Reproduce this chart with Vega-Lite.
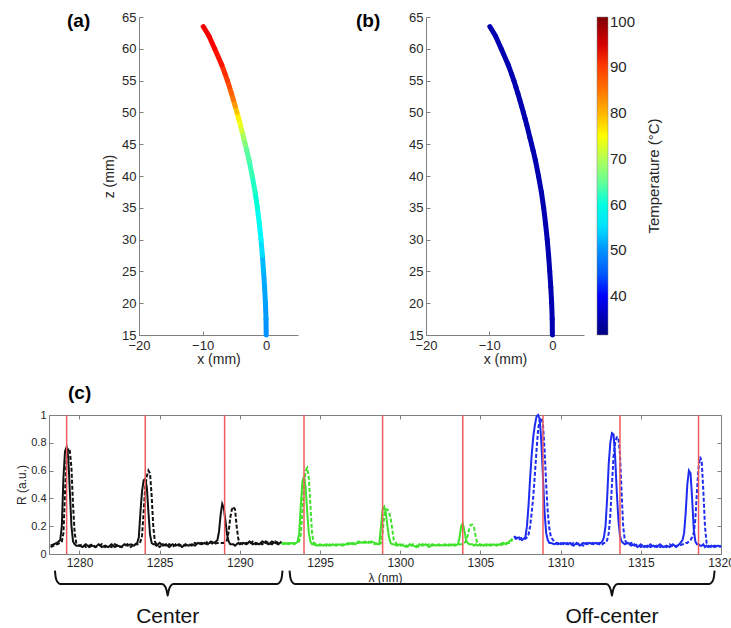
{
"$schema": "https://vega.github.io/schema/vega-lite/v6.json",
"padding": {"left": 15, "top": 11, "right": 0, "bottom": 0},
"background": "white",
"config": {
  "font": "Liberation Sans",
  "view": {"stroke": null},
  "axis": {"grid": false, "domainColor": "#808080", "tickColor": "#808080", "labelColor": "#262626", "titleColor": "#262626", "titleFontWeight": "normal", "labelFlush": false, "labelOverlap": false, "tickSize": -4, "labelFontSize": 13, "titleFontSize": 14},
  "title": {"fontSize": 19, "fontWeight": "bold", "anchor": "start", "frame": "group", "color": "#000000"}
},
"datasets": {
  "curve": [
    {"z":15,"x":0,"ta":50,"tb":35},{"z":17.5,"x":-0.03,"ta":50.5,"tb":35},{"z":20,"x":-0.12,"ta":51,"tb":35},{"z":22.5,"x":-0.25,"ta":51.5,"tb":35},
    {"z":25,"x":-0.42,"ta":52.5,"tb":35},{"z":27.5,"x":-0.6,"ta":55,"tb":35},{"z":30,"x":-0.82,"ta":57,"tb":35},{"z":32.5,"x":-1.08,"ta":59,"tb":35},
    {"z":35,"x":-1.38,"ta":61,"tb":35},{"z":37.5,"x":-1.75,"ta":62,"tb":35},{"z":40,"x":-2.2,"ta":63,"tb":35},{"z":42.5,"x":-2.7,"ta":64,"tb":35},
    {"z":44,"x":-3.05,"ta":65,"tb":35},{"z":45,"x":-3.3,"ta":67,"tb":35},{"z":46,"x":-3.55,"ta":69,"tb":35},{"z":47,"x":-3.8,"ta":72,"tb":35},
    {"z":48,"x":-4.05,"ta":74,"tb":35},{"z":49,"x":-4.32,"ta":76,"tb":35},{"z":50,"x":-4.6,"ta":79,"tb":35},{"z":51,"x":-4.88,"ta":82,"tb":35},
    {"z":52,"x":-5.17,"ta":85,"tb":35},{"z":53,"x":-5.47,"ta":87,"tb":35},{"z":54,"x":-5.78,"ta":89,"tb":35},{"z":55,"x":-6.1,"ta":90,"tb":35},
    {"z":56,"x":-6.45,"ta":91,"tb":35},{"z":57.5,"x":-7.0,"ta":92,"tb":35},{"z":60,"x":-8.1,"ta":92.5,"tb":35},{"z":62,"x":-9.0,"ta":93,"tb":35},
    {"z":63.5,"x":-9.9,"ta":93,"tb":35}
  ],
  "red": [{"l":1279.2},{"l":1284.1},{"l":1289.05},{"l":1294.0},{"l":1298.9},{"l":1303.9},{"l":1308.9},{"l":1313.7},{"l":1318.6}],
  "spec": [
    {"c":"k","l":1278.2,"a":0.06,"b":0.05},{"c":"k","l":1278.4,"a":0.07,"b":0.06},{"c":"k","l":1278.6,"a":0.08,"b":0.07},{"c":"k","l":1278.8,"a":0.10,"b":0.08},
    {"c":"k","l":1278.9,"a":0.20,"b":0.09},{"c":"k","l":1279.0,"a":0.55,"b":0.15},{"c":"k","l":1279.1,"a":0.74,"b":0.45},{"c":"k","l":1279.2,"a":0.77,"b":0.68},
    {"c":"k","l":1279.3,"a":0.70,"b":0.76},{"c":"k","l":1279.4,"a":0.45,"b":0.74},{"c":"k","l":1279.5,"a":0.20,"b":0.62},{"c":"k","l":1279.6,"a":0.09,"b":0.35},
    {"c":"k","l":1279.7,"a":0.07,"b":0.15},{"c":"k","l":1279.8,"a":0.06,"b":0.08},{"c":"k","l":1280.0,"a":0.06,"b":0.06},{"c":"k","l":1280.2,"a":0.05,"b":0.07},
    {"c":"k","l":1280.4,"a":0.07,"b":0.05},{"c":"k","l":1280.6,"a":0.05,"b":0.06},{"c":"k","l":1280.8,"a":0.06,"b":0.07},{"c":"k","l":1281.0,"a":0.05,"b":0.05},
    {"c":"k","l":1281.2,"a":0.07,"b":0.06},{"c":"k","l":1281.4,"a":0.05,"b":0.07},{"c":"k","l":1281.6,"a":0.06,"b":0.05},{"c":"k","l":1281.8,"a":0.05,"b":0.06},
    {"c":"k","l":1282.0,"a":0.07,"b":0.05},{"c":"k","l":1282.2,"a":0.05,"b":0.07},{"c":"k","l":1282.4,"a":0.06,"b":0.06},{"c":"k","l":1282.6,"a":0.05,"b":0.05},
    {"c":"k","l":1282.8,"a":0.07,"b":0.06},{"c":"k","l":1283.0,"a":0.06,"b":0.07},{"c":"k","l":1283.2,"a":0.07,"b":0.05},{"c":"k","l":1283.4,"a":0.06,"b":0.07},
    {"c":"k","l":1283.6,"a":0.08,"b":0.07},{"c":"k","l":1283.7,"a":0.12,"b":0.07},{"c":"k","l":1283.8,"a":0.30,"b":0.09},{"c":"k","l":1283.9,"a":0.45,"b":0.13},
    {"c":"k","l":1284.0,"a":0.53,"b":0.30},{"c":"k","l":1284.1,"a":0.54,"b":0.48},{"c":"k","l":1284.2,"a":0.48,"b":0.56},{"c":"k","l":1284.3,"a":0.30,"b":0.60},
    {"c":"k","l":1284.4,"a":0.14,"b":0.58},{"c":"k","l":1284.5,"a":0.08,"b":0.42},{"c":"k","l":1284.6,"a":0.07,"b":0.20},{"c":"k","l":1284.7,"a":0.07,"b":0.09},
    {"c":"k","l":1284.8,"a":0.06,"b":0.07},{"c":"k","l":1285.0,"a":0.08,"b":0.05},{"c":"k","l":1285.2,"a":0.06,"b":0.07},{"c":"k","l":1285.4,"a":0.07,"b":0.06},
    {"c":"k","l":1285.6,"a":0.05,"b":0.07},{"c":"k","l":1285.8,"a":0.07,"b":0.05},{"c":"k","l":1286.0,"a":0.06,"b":0.07},{"c":"k","l":1286.2,"a":0.07,"b":0.06},
    {"c":"k","l":1286.4,"a":0.05,"b":0.07},{"c":"k","l":1286.6,"a":0.07,"b":0.06},{"c":"k","l":1286.8,"a":0.06,"b":0.07},{"c":"k","l":1287.0,"a":0.07,"b":0.06},
    {"c":"k","l":1287.2,"a":0.06,"b":0.08},{"c":"k","l":1287.4,"a":0.08,"b":0.07},{"c":"k","l":1287.6,"a":0.07,"b":0.08},{"c":"k","l":1287.8,"a":0.08,"b":0.07},
    {"c":"k","l":1288.0,"a":0.07,"b":0.09},{"c":"k","l":1288.2,"a":0.09,"b":0.08},{"c":"k","l":1288.4,"a":0.08,"b":0.07},{"c":"k","l":1288.6,"a":0.10,"b":0.08},
    {"c":"k","l":1288.7,"a":0.16,"b":0.08},{"c":"k","l":1288.8,"a":0.28,"b":0.08},{"c":"k","l":1288.9,"a":0.36,"b":0.08},{"c":"k","l":1289.0,"a":0.33,"b":0.08},
    {"c":"k","l":1289.1,"a":0.24,"b":0.09},{"c":"k","l":1289.2,"a":0.14,"b":0.10},{"c":"k","l":1289.3,"a":0.09,"b":0.16},{"c":"k","l":1289.4,"a":0.07,"b":0.26},
    {"c":"k","l":1289.5,"a":0.07,"b":0.32},{"c":"k","l":1289.6,"a":0.07,"b":0.34},{"c":"k","l":1289.7,"a":0.06,"b":0.32},{"c":"k","l":1289.8,"a":0.07,"b":0.20},
    {"c":"k","l":1289.9,"a":0.08,"b":0.11},{"c":"k","l":1290.0,"a":0.07,"b":0.08},{"c":"k","l":1290.2,"a":0.08,"b":0.07},{"c":"k","l":1290.4,"a":0.07,"b":0.08},
    {"c":"k","l":1290.6,"a":0.09,"b":0.07},{"c":"k","l":1290.8,"a":0.07,"b":0.09},{"c":"k","l":1291.0,"a":0.08,"b":0.07},{"c":"k","l":1291.2,"a":0.07,"b":0.08},
    {"c":"k","l":1291.4,"a":0.09,"b":0.07},{"c":"k","l":1291.6,"a":0.08,"b":0.09},{"c":"k","l":1291.8,"a":0.07,"b":0.08},{"c":"k","l":1292.0,"a":0.09,"b":0.07},
    {"c":"k","l":1292.2,"a":0.08,"b":0.09},{"c":"k","l":1292.4,"a":0.07,"b":0.08},{"c":"k","l":1292.6,"a":0.09,"b":0.08},
    {"c":"g","l":1292.6,"a":0.07,"b":0.08},{"c":"g","l":1292.8,"a":0.08,"b":0.07},{"c":"g","l":1293.0,"a":0.07,"b":0.08},{"c":"g","l":1293.2,"a":0.08,"b":0.07},
    {"c":"g","l":1293.4,"a":0.07,"b":0.08},{"c":"g","l":1293.6,"a":0.09,"b":0.08},{"c":"g","l":1293.7,"a":0.15,"b":0.09},{"c":"g","l":1293.8,"a":0.35,"b":0.14},
    {"c":"g","l":1293.9,"a":0.52,"b":0.30},{"c":"g","l":1294.0,"a":0.56,"b":0.50},{"c":"g","l":1294.1,"a":0.48,"b":0.60},{"c":"g","l":1294.2,"a":0.30,"b":0.62},
    {"c":"g","l":1294.3,"a":0.15,"b":0.55},{"c":"g","l":1294.4,"a":0.09,"b":0.35},{"c":"g","l":1294.5,"a":0.07,"b":0.15},{"c":"g","l":1294.6,"a":0.07,"b":0.08},
    {"c":"g","l":1294.8,"a":0.06,"b":0.07},{"c":"g","l":1295.0,"a":0.07,"b":0.06},{"c":"g","l":1295.2,"a":0.06,"b":0.07},{"c":"g","l":1295.4,"a":0.07,"b":0.06},
    {"c":"g","l":1295.6,"a":0.06,"b":0.07},{"c":"g","l":1295.8,"a":0.07,"b":0.06},{"c":"g","l":1296.0,"a":0.06,"b":0.07},{"c":"g","l":1296.2,"a":0.07,"b":0.06},
    {"c":"g","l":1296.4,"a":0.06,"b":0.07},{"c":"g","l":1296.6,"a":0.07,"b":0.07},{"c":"g","l":1296.8,"a":0.07,"b":0.08},{"c":"g","l":1297.0,"a":0.08,"b":0.07},
    {"c":"g","l":1297.2,"a":0.07,"b":0.08},{"c":"g","l":1297.4,"a":0.09,"b":0.08},{"c":"g","l":1297.6,"a":0.08,"b":0.09},{"c":"g","l":1297.8,"a":0.09,"b":0.08},
    {"c":"g","l":1298.0,"a":0.08,"b":0.09},{"c":"g","l":1298.2,"a":0.09,"b":0.08},{"c":"g","l":1298.4,"a":0.08,"b":0.07},{"c":"g","l":1298.6,"a":0.07,"b":0.08},
    {"c":"g","l":1298.7,"a":0.08,"b":0.07},{"c":"g","l":1298.8,"a":0.20,"b":0.08},{"c":"g","l":1298.9,"a":0.32,"b":0.15},{"c":"g","l":1299.0,"a":0.34,"b":0.28},
    {"c":"g","l":1299.1,"a":0.30,"b":0.32},{"c":"g","l":1299.2,"a":0.20,"b":0.32},{"c":"g","l":1299.3,"a":0.12,"b":0.30},{"c":"g","l":1299.4,"a":0.08,"b":0.26},
    {"c":"g","l":1299.5,"a":0.07,"b":0.18},{"c":"g","l":1299.6,"a":0.07,"b":0.10},{"c":"g","l":1299.8,"a":0.06,"b":0.07},{"c":"g","l":1300.0,"a":0.07,"b":0.06},
    {"c":"g","l":1300.2,"a":0.06,"b":0.07},{"c":"g","l":1300.4,"a":0.05,"b":0.06},{"c":"g","l":1300.6,"a":0.07,"b":0.05},{"c":"g","l":1300.8,"a":0.06,"b":0.07},
    {"c":"g","l":1301.0,"a":0.05,"b":0.06},{"c":"g","l":1301.2,"a":0.07,"b":0.05},{"c":"g","l":1301.4,"a":0.06,"b":0.07},{"c":"g","l":1301.6,"a":0.07,"b":0.06},
    {"c":"g","l":1301.8,"a":0.05,"b":0.07},{"c":"g","l":1302.0,"a":0.07,"b":0.06},{"c":"g","l":1302.2,"a":0.06,"b":0.07},{"c":"g","l":1302.4,"a":0.07,"b":0.06},
    {"c":"g","l":1302.6,"a":0.06,"b":0.07},{"c":"g","l":1302.8,"a":0.07,"b":0.06},{"c":"g","l":1303.0,"a":0.06,"b":0.07},{"c":"g","l":1303.2,"a":0.07,"b":0.06},
    {"c":"g","l":1303.4,"a":0.06,"b":0.07},{"c":"g","l":1303.6,"a":0.07,"b":0.06},{"c":"g","l":1303.7,"a":0.12,"b":0.07},{"c":"g","l":1303.8,"a":0.20,"b":0.07},
    {"c":"g","l":1303.9,"a":0.22,"b":0.07},{"c":"g","l":1304.0,"a":0.17,"b":0.08},{"c":"g","l":1304.1,"a":0.10,"b":0.09},{"c":"g","l":1304.2,"a":0.08,"b":0.13},
    {"c":"g","l":1304.3,"a":0.07,"b":0.18},{"c":"g","l":1304.4,"a":0.07,"b":0.21},{"c":"g","l":1304.5,"a":0.07,"b":0.21},{"c":"g","l":1304.6,"a":0.06,"b":0.19},
    {"c":"g","l":1304.7,"a":0.07,"b":0.13},{"c":"g","l":1304.8,"a":0.06,"b":0.08},{"c":"g","l":1305.0,"a":0.07,"b":0.06},{"c":"g","l":1305.2,"a":0.06,"b":0.07},
    {"c":"g","l":1305.4,"a":0.07,"b":0.06},{"c":"g","l":1305.6,"a":0.06,"b":0.07},{"c":"g","l":1305.8,"a":0.07,"b":0.06},{"c":"g","l":1306.0,"a":0.06,"b":0.07},
    {"c":"g","l":1306.2,"a":0.07,"b":0.06},{"c":"g","l":1306.4,"a":0.08,"b":0.07},{"c":"g","l":1306.6,"a":0.07,"b":0.08},{"c":"g","l":1306.8,"a":0.09,"b":0.08},
    {"c":"g","l":1307.0,"a":0.11,"b":0.10},
    {"c":"b","l":1307.1,"a":0.13,"b":0.12},{"c":"b","l":1307.2,"a":0.11,"b":0.12},{"c":"b","l":1307.4,"a":0.12,"b":0.10},{"c":"b","l":1307.6,"a":0.10,"b":0.12},
    {"c":"b","l":1307.8,"a":0.12,"b":0.11},{"c":"b","l":1307.9,"a":0.20,"b":0.12},{"c":"b","l":1308.0,"a":0.35,"b":0.14},{"c":"b","l":1308.1,"a":0.55,"b":0.20},
    {"c":"b","l":1308.2,"a":0.72,"b":0.30},{"c":"b","l":1308.3,"a":0.85,"b":0.42},{"c":"b","l":1308.4,"a":0.93,"b":0.58},{"c":"b","l":1308.5,"a":0.99,"b":0.75},
    {"c":"b","l":1308.6,"a":1.0,"b":0.90},{"c":"b","l":1308.7,"a":0.97,"b":0.97},{"c":"b","l":1308.8,"a":0.80,"b":0.98},{"c":"b","l":1308.9,"a":0.55,"b":0.93},
    {"c":"b","l":1309.0,"a":0.30,"b":0.75},{"c":"b","l":1309.1,"a":0.15,"b":0.50},{"c":"b","l":1309.2,"a":0.10,"b":0.30},{"c":"b","l":1309.3,"a":0.08,"b":0.18},
    {"c":"b","l":1309.4,"a":0.08,"b":0.12},{"c":"b","l":1309.6,"a":0.07,"b":0.09},{"c":"b","l":1309.8,"a":0.08,"b":0.07},{"c":"b","l":1310.0,"a":0.07,"b":0.08},
    {"c":"b","l":1310.2,"a":0.08,"b":0.07},{"c":"b","l":1310.4,"a":0.07,"b":0.08},{"c":"b","l":1310.6,"a":0.08,"b":0.06},{"c":"b","l":1310.8,"a":0.06,"b":0.08},
    {"c":"b","l":1311.0,"a":0.08,"b":0.07},{"c":"b","l":1311.2,"a":0.06,"b":0.08},{"c":"b","l":1311.4,"a":0.08,"b":0.06},{"c":"b","l":1311.6,"a":0.07,"b":0.08},
    {"c":"b","l":1311.8,"a":0.08,"b":0.07},{"c":"b","l":1312.0,"a":0.07,"b":0.08},{"c":"b","l":1312.2,"a":0.08,"b":0.07},{"c":"b","l":1312.4,"a":0.07,"b":0.08},
    {"c":"b","l":1312.6,"a":0.09,"b":0.07},{"c":"b","l":1312.7,"a":0.12,"b":0.08},{"c":"b","l":1312.8,"a":0.20,"b":0.08},{"c":"b","l":1312.9,"a":0.40,"b":0.10},
    {"c":"b","l":1313.0,"a":0.65,"b":0.15},{"c":"b","l":1313.1,"a":0.80,"b":0.28},{"c":"b","l":1313.2,"a":0.87,"b":0.50},{"c":"b","l":1313.3,"a":0.86,"b":0.70},
    {"c":"b","l":1313.4,"a":0.70,"b":0.80},{"c":"b","l":1313.5,"a":0.45,"b":0.84},{"c":"b","l":1313.6,"a":0.25,"b":0.84},{"c":"b","l":1313.7,"a":0.13,"b":0.72},
    {"c":"b","l":1313.8,"a":0.09,"b":0.45},{"c":"b","l":1313.9,"a":0.08,"b":0.20},{"c":"b","l":1314.0,"a":0.07,"b":0.10},{"c":"b","l":1314.2,"a":0.08,"b":0.07},
    {"c":"b","l":1314.4,"a":0.06,"b":0.08},{"c":"b","l":1314.6,"a":0.07,"b":0.06},{"c":"b","l":1314.8,"a":0.05,"b":0.07},{"c":"b","l":1315.0,"a":0.07,"b":0.05},
    {"c":"b","l":1315.2,"a":0.05,"b":0.06},{"c":"b","l":1315.4,"a":0.06,"b":0.05},{"c":"b","l":1315.6,"a":0.05,"b":0.07},{"c":"b","l":1315.8,"a":0.06,"b":0.05},
    {"c":"b","l":1316.0,"a":0.05,"b":0.06},{"c":"b","l":1316.2,"a":0.07,"b":0.05},{"c":"b","l":1316.4,"a":0.05,"b":0.06},{"c":"b","l":1316.6,"a":0.06,"b":0.05},
    {"c":"b","l":1316.8,"a":0.05,"b":0.07},{"c":"b","l":1317.0,"a":0.07,"b":0.05},{"c":"b","l":1317.2,"a":0.05,"b":0.06},{"c":"b","l":1317.4,"a":0.07,"b":0.06},
    {"c":"b","l":1317.6,"a":0.10,"b":0.07},{"c":"b","l":1317.7,"a":0.15,"b":0.07},{"c":"b","l":1317.8,"a":0.30,"b":0.08},{"c":"b","l":1317.9,"a":0.50,"b":0.08},
    {"c":"b","l":1318.0,"a":0.60,"b":0.09},{"c":"b","l":1318.1,"a":0.58,"b":0.10},{"c":"b","l":1318.2,"a":0.40,"b":0.12},{"c":"b","l":1318.3,"a":0.18,"b":0.15},
    {"c":"b","l":1318.4,"a":0.09,"b":0.25},{"c":"b","l":1318.5,"a":0.07,"b":0.45},{"c":"b","l":1318.6,"a":0.07,"b":0.62},{"c":"b","l":1318.7,"a":0.06,"b":0.70},
    {"c":"b","l":1318.8,"a":0.06,"b":0.66},{"c":"b","l":1318.9,"a":0.07,"b":0.45},{"c":"b","l":1319.0,"a":0.05,"b":0.20},{"c":"b","l":1319.1,"a":0.06,"b":0.08},
    {"c":"b","l":1319.2,"a":0.05,"b":0.06},{"c":"b","l":1319.4,"a":0.06,"b":0.05},{"c":"b","l":1319.6,"a":0.05,"b":0.06},{"c":"b","l":1319.8,"a":0.06,"b":0.05},
    {"c":"b","l":1320.0,"a":0.05,"b":0.06}
  ],
  "brace": [
    {"g":"c","l":1278.47,"r":-0.12},{"g":"c","l":1278.52,"r":-0.17},{"g":"c","l":1278.62,"r":-0.2},{"g":"c","l":1278.8,"r":-0.215},
    {"g":"c","l":1285.15,"r":-0.215},{"g":"c","l":1285.35,"r":-0.235},{"g":"c","l":1285.45,"r":-0.27},{"g":"c","l":1285.5,"r":-0.30},
    {"g":"c","l":1285.55,"r":-0.27},{"g":"c","l":1285.65,"r":-0.235},{"g":"c","l":1285.85,"r":-0.215},{"g":"c","l":1292.33,"r":-0.215},
    {"g":"c","l":1292.51,"r":-0.2},{"g":"c","l":1292.61,"r":-0.17},{"g":"c","l":1292.66,"r":-0.12},
    {"g":"o","l":1293.1,"r":-0.12},{"g":"o","l":1293.15,"r":-0.17},{"g":"o","l":1293.25,"r":-0.2},{"g":"o","l":1293.43,"r":-0.215},
    {"g":"o","l":1312.85,"r":-0.215},{"g":"o","l":1313.05,"r":-0.235},{"g":"o","l":1313.15,"r":-0.27},{"g":"o","l":1313.2,"r":-0.30},
    {"g":"o","l":1313.25,"r":-0.27},{"g":"o","l":1313.35,"r":-0.235},{"g":"o","l":1313.55,"r":-0.215},{"g":"o","l":1319.27,"r":-0.215},
    {"g":"o","l":1319.45,"r":-0.2},{"g":"o","l":1319.55,"r":-0.17},{"g":"o","l":1319.6,"r":-0.12}
  ],
  "lab": [{"t":"Center","l":1285.5,"r":-0.45},{"t":"Off-center","l":1313.2,"r":-0.45}]
},
"spacing": 17,
"vconcat": [
  {
    "spacing": 17,
    "hconcat": [
      {"width": 1, "height": 1, "data": {"values": []}, "mark": "point"},
      {
        "spacing": 58,
        "resolve": {"scale": {"color": "independent"}, "legend": {"color": "independent"}},
        "hconcat": [
          {
            "width": 159, "height": 318,
            "title": {"text": "(a)", "dx": -72, "offset": -20},
            "data": {"name": "curve"},
            "transform": [
              {"window": [{"op": "lead", "field": "x", "as": "x2"}, {"op": "lead", "field": "z", "as": "z2"}], "sort": [{"field": "z"}]},
              {"filter": "datum.x2 != null"}
            ],
            "mark": {"type": "rule", "strokeWidth": 5, "strokeCap": "round"},
            "encoding": {
              "x": {"field": "x", "type": "quantitative", "scale": {"domain": [-20, 5]}, "axis": {"values": [-20, -10, 0], "title": "x (mm)", "labelPadding": 8, "titlePadding": 0}},
              "x2": {"field": "x2"},
              "y": {"field": "z", "type": "quantitative", "scale": {"domain": [15, 65]}, "axis": {"values": [15, 20, 25, 30, 35, 40, 45, 50, 55, 60, 65], "title": "z (mm)", "labelPadding": 7, "titlePadding": 5}},
              "y2": {"field": "z2"},
              "color": {"field": "ta", "type": "quantitative", "scale": {"domain": [31.5, 101], "range": ["#00007f", "#0000ff", "#007fff", "#00ffff", "#7fff7f", "#ffff00", "#ff7f00", "#ff0000", "#7f0000"]}, "legend": null}
            }
          },
          {
            "width": 158, "height": 318,
            "title": {"text": "(b)", "dx": -70, "offset": -20},
            "data": {"name": "curve"},
            "transform": [
              {"window": [{"op": "lead", "field": "x", "as": "x2"}, {"op": "lead", "field": "z", "as": "z2"}], "sort": [{"field": "z"}]},
              {"filter": "datum.x2 != null"}
            ],
            "mark": {"type": "rule", "strokeWidth": 5, "strokeCap": "round"},
            "encoding": {
              "x": {"field": "x", "type": "quantitative", "scale": {"domain": [-20, 5]}, "axis": {"values": [-20, -10, 0], "title": "x (mm)", "labelPadding": 8, "titlePadding": 0}},
              "x2": {"field": "x2"},
              "y": {"field": "z", "type": "quantitative", "scale": {"domain": [15, 65]}, "axis": {"values": [15, 20, 25, 30, 35, 40, 45, 50, 55, 60, 65], "title": null, "labelPadding": 7}},
              "y2": {"field": "z2"},
              "color": {"field": "tb", "type": "quantitative", "scale": {"domain": [31.5, 101], "range": ["#00007f", "#0000ff", "#007fff", "#00ffff", "#7fff7f", "#ffff00", "#ff7f00", "#ff0000", "#7f0000"]},
                "legend": {"title": "Temperature (°C)", "orient": "right", "direction": "vertical", "offset": 13, "gradientLength": 318, "gradientThickness": 11, "values": [40, 50, 60, 70, 80, 90, 100], "labelFontSize": 15, "labelColor": "#262626", "labelOverlap": false, "labelPadding": 2, "titleFontSize": 15, "titleFontWeight": "normal", "titleColor": "#262626", "titleOrient": "right", "titlePadding": 27, "titleAnchor": "middle", "gradientStrokeColor": "#808080", "gradientStrokeWidth": 0.5,
                  "encode": {"title": {"update": {"angle": {"value": 270}}}}}}
            }
          }
        ]
      }
    ]
  },
  {
    "width": 672, "height": 139,
    "title": {"text": "(c)", "dx": 19, "offset": 6},
    "view": {"stroke": "#808080"},
    "layer": [
      {
        "data": {"name": "spec"},
        "transform": [{"fold": ["a", "b"], "as": ["s", "r"]}],
        "mark": {"type": "line", "strokeWidth": 2},
        "encoding": {
          "x": {"field": "l", "type": "quantitative", "scale": {"domain": [1278.1, 1320]}, "axis": {"values": [1280, 1285, 1290, 1295, 1300, 1305, 1310, 1315, 1320], "format": "d", "title": "λ (nm)", "labelFontSize": 12, "titleFontSize": 12, "labelPadding": 7, "titlePadding": 4}},
          "y": {"field": "r", "type": "quantitative", "scale": {"domain": [0, 1]}, "axis": {"values": [0, 0.2, 0.4, 0.6, 0.8, 1], "format": "~g", "title": "R (a.u.)", "labelFontSize": 11, "titleFontSize": 12, "labelPadding": 7, "titlePadding": 2}},
          "color": {"field": "c", "type": "nominal", "scale": {"domain": ["k", "g", "b"], "range": ["#111111", "#3ee22a", "#1e2cf2"]}, "legend": null},
          "strokeDash": {"field": "s", "type": "nominal", "scale": {"domain": ["a", "b"], "range": [[1, 0], [4, 2]]}, "legend": null}
        }
      },
      {
        "data": {"name": "red"},
        "mark": {"type": "rule", "color": "#f05a5a", "strokeWidth": 1.5},
        "encoding": {
          "x": {"field": "l", "type": "quantitative", "scale": {"domain": [1278.1, 1320]}, "axis": null}
        }
      },
      {
        "data": {"name": "brace"},
        "mark": {"type": "line", "color": "#111111", "strokeWidth": 2, "clip": false, "interpolate": "monotone"},
        "encoding": {
          "x": {"field": "l", "type": "quantitative", "scale": {"domain": [1278.1, 1320]}, "axis": {"orient": "top", "labels": false, "title": null, "domain": false, "values": [1280, 1285, 1290, 1295, 1300, 1305, 1310, 1315, 1320]}},
          "y": {"field": "r", "type": "quantitative", "scale": {"domain": [0, 1]}, "axis": {"orient": "right", "labels": false, "title": null, "domain": false, "values": [0, 0.2, 0.4, 0.6, 0.8, 1]}},
          "detail": {"field": "g"}
        }
      },
      {
        "data": {"name": "lab"},
        "mark": {"type": "text", "fontSize": 21, "clip": false, "baseline": "middle", "color": "#111111"},
        "encoding": {
          "x": {"field": "l", "type": "quantitative", "scale": {"domain": [1278.1, 1320]}, "axis": null},
          "y": {"field": "r", "type": "quantitative", "scale": {"domain": [0, 1]}, "axis": null},
          "text": {"field": "t"}
        }
      }
    ],
    "resolve": {"axis": {"x": "independent", "y": "independent"}}
  }
]
}
